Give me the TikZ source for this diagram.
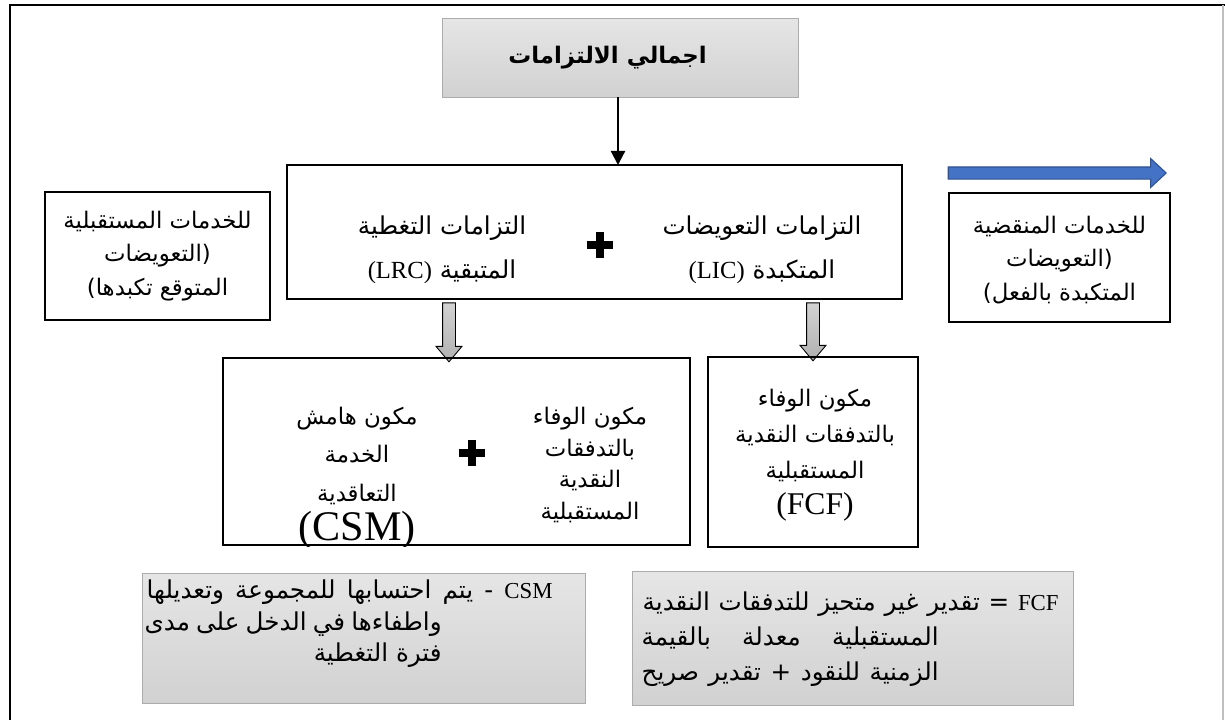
\documentclass[tikz,border=0pt]{standalone}
\usepackage{fontspec}
\setmainfont{Liberation Serif}
\newfontfamily\arabicfont[Script=Arabic]{DejaVu Sans}
\usetikzlibrary{arrows.meta,positioning,shapes.arrows}
\TeXXeTstate=1
\newcommand{\artext}[1]{{\arabicfont\beginR #1\endR}}
\newcommand{\lat}[1]{{\rmfamily\beginL #1\endL}}
\newcommand{\noteline}[3]{\hbox to #1{\hfill #3\hskip #2}}
\newcommand{\plusfill}[1]{%
  \fill ([xshift=-0.26cm,yshift=-0.08cm]#1.center) rectangle ([xshift=0.26cm,yshift=0.08cm]#1.center);
  \fill ([xshift=-0.08cm,yshift=-0.26cm]#1.center) rectangle ([xshift=0.08cm,yshift=0.26cm]#1.center);}
\definecolor{blueface}{HTML}{4472C4}
\definecolor{blueedge}{HTML}{2F528F}

\begin{document}
\begin{tikzpicture}[
    x=0.02cm, y=-0.02cm,
    box/.style={rectangle, draw, line width=1.3pt, inner sep=0pt},
    shadedbox/.style={rectangle, top color=gray!20, bottom color=gray!36, draw=gray!65, line width=0.5pt, inner sep=0pt},
    txt/.style={align=center, inner sep=0pt, font=\fontsize{14}{25}\selectfont},
    smalltxt/.style={align=center, inner sep=0pt, font=\fontsize{13}{19}\selectfont},
    notetxt/.style={align=left, inner sep=0pt, font=\fontsize{14}{18}\selectfont},
    grayarrow/.style={single arrow, shape border rotate=270, draw=black, line width=0.5pt, top color=gray!35, bottom color=gray!62, minimum width=0.5cm, single arrow head extend=0.13cm, single arrow tip angle=80, inner sep=0.12cm},
    bluearrow/.style={single arrow, draw=blueedge, fill=blueface, line width=0.6pt, minimum width=0.56cm, single arrow head extend=0.17cm, single arrow tip angle=86, inner sep=0.11cm},
    plusmark/.style={rectangle, minimum size=0.52cm, inner sep=0pt},
    link/.style={-{Triangle[length=8pt,width=8pt]}, line width=1.3pt}
]
\useasboundingbox (0,0) rectangle (1225,720);

% outer frame
\draw[line width=1.6pt] (10,760) -- (10,5) -- (1225,5);
\draw[gray!50, line width=0.8pt] (1223,5) -- (1223,720);

% total liabilities
\node[shadedbox, minimum width=7.12cm, minimum height=1.58cm] (total) at (620,57.5)
    {\fontsize{13}{16}\selectfont\artext{\bfseries اجمالي الالتزامات}\rule{0.5cm}{0pt}};

% main box
\node[box, minimum width=12.3cm, minimum height=2.68cm] (liab) at (594.5,232) {};
\node[txt] (lic) at (762,250) {\artext{التزامات التعويضات}\\ \artext{المتكبدة \lat{(LIC)}}};
\node[txt] (lrc) at (442,250) {\artext{التزامات التغطية}\\ \artext{المتبقية \lat{(LRC)}}};
\node[plusmark] (plusA) at (600,245) {};
\plusfill{plusA}

\draw[link] (618,97) -- (618,165);

% side boxes
\node[box, minimum width=4.5cm, minimum height=2.56cm] (future) at (157.5,256) {};
\node[smalltxt] (futuretxt) at (future.center) {\artext{للخدمات المستقبلية}\\ \artext{(التعويضات}\\ \artext{المتوقع تكبدها)}};

\node[bluearrow, minimum height=4.36cm] (flow) at (1054,173) {};
\node[box, minimum width=4.42cm, minimum height=2.58cm] (past) at (1059.5,257.5) {};
\node[smalltxt] (pasttxt) at (1059.5,260) {\artext{للخدمات المنقضية}\\ \artext{(التعويضات}\\ \artext{المتكبدة بالفعل)}};

% lower boxes
\node[grayarrow, minimum height=1.18cm] (downA) at (449,328.5) {};
\node[grayarrow, minimum height=1.16cm] (downB) at (813,328) {};

\node[box, minimum width=9.34cm, minimum height=3.74cm] (lrcbox) at (456.5,451.5) {};
\node[box, minimum width=4.2cm, minimum height=3.8cm] (fcfbox) at (813,452) {};

\begin{scope}
\clip (lrcbox.north west) rectangle (lrcbox.south east);
\node[txt, font=\fontsize{13}{18}\selectfont] (fcfpart) at (590,465) {\artext{مكون الوفاء}\\ \artext{بالتدفقات}\\ \artext{النقدية}\\ \artext{المستقبلية}};
\node[txt, font=\fontsize{13}{22}\selectfont] (csmpart) at (357,478) {\artext{مكون هامش}\\ \artext{الخدمة}\\ \artext{التعاقدية}\\ \lat{\fontsize{24}{22}\selectfont(CSM)}};
\end{scope}
\node[plusmark] (plusB) at (472,453) {};
\plusfill{plusB}

\node[txt, font=\fontsize{13}{20.5}\selectfont] (fcftxt) at (815,455) {\artext{مكون الوفاء}\\ \artext{بالتدفقات النقدية}\\ \artext{المستقبلية}\\ \lat{\fontsize{18}{20}\selectfont(FCF)}};

% notes
\node[shadedbox, minimum width=8.86cm, minimum height=2.6cm] (csmnote) at (363.5,638) {};
\node[notetxt, anchor=east] (csmnotetxt) at (553,624)
    {\noteline{8.2cm}{0cm}{\hbox to 8.12cm{\artext{{\fontsize{13}{18}\selectfont\lat{CSM}}\hfill -\hfill يتم\hfill احتسابها\hfill للمجموعة\hfill وتعديلها}}}\\
     \noteline{8.2cm}{2.22cm}{\hbox to 5.94cm{\artext{واطفاءها\hfill في\hfill الدخل\hfill على\hfill مدى}}}\\
     \noteline{8.2cm}{2.22cm}{\artext{فترة التغطية}}};

\node[shadedbox, minimum width=8.82cm, minimum height=2.68cm] (fcfnote) at (852.5,638) {};
\begin{scope}
\clip (fcfnote.north west) rectangle (fcfnote.south east);
\node[notetxt, anchor=north east, font=\fontsize{14}{20}\selectfont] (fcfnotetxt) at (1059,591)
    {\noteline{8.4cm}{0cm}{\hbox to 8.32cm{\artext{{\fontsize{13}{20}\selectfont\lat{FCF}}\hfill =\hfill تقدير\hfill غير\hfill متحيز\hfill للتدفقات\hfill النقدية}}}\\
     \noteline{8.4cm}{2.4cm}{\hbox to 5.94cm{\artext{المستقبلية\hfill معدلة\hfill بالقيمة}}}\\
     \noteline{8.4cm}{2.4cm}{\hbox to 5.94cm{\artext{الزمنية\hfill للنقود\hfill +\hfill تقدير\hfill صريح}}}};
\end{scope}
\end{tikzpicture}
\end{document}
